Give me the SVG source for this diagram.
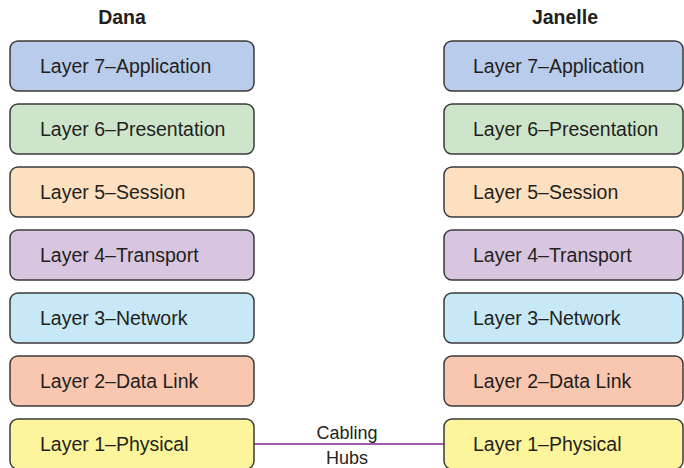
<svg xmlns="http://www.w3.org/2000/svg" width="684" height="468" viewBox="0 0 684 468">
<style>
.box{stroke:#3a3a3a;stroke-width:1.5}
.lbl{font-family:"Liberation Sans",Arial,sans-serif;font-size:19.5px;fill:#231f20}
.hdr{font-family:"Liberation Sans",Arial,sans-serif;font-size:19.5px;font-weight:bold;fill:#231f20;text-anchor:middle}
.con{font-family:"Liberation Sans",Arial,sans-serif;font-size:18px;fill:#231f20;text-anchor:middle}
.l7{fill:#b9cceb}.l6{fill:#cde6cb}.l5{fill:#fde0bf}.l4{fill:#d8c6e1}.l3{fill:#c7e8f6}.l2{fill:#f9c6b0}.l1{fill:#fdf59b}
</style>
<rect width="684" height="468" fill="#ffffff"/>
<text class="hdr" x="122" y="24">Dana</text>
<text class="hdr" x="565" y="24">Janelle</text>
<g id="connectors">
<line x1="254" y1="444" x2="444" y2="444" stroke="#a359b0" stroke-width="2"/>
<text class="con" x="347" y="439">Cabling</text>
<text class="con" x="347" y="464">Hubs</text>
</g>
<g id="dana-l7"><rect class="box l7" x="10" y="41" width="244" height="50" rx="8"/><text class="lbl" x="40" y="73">Layer 7–Application</text></g>
<g id="dana-l6"><rect class="box l6" x="10" y="104" width="244" height="50" rx="8"/><text class="lbl" x="40" y="136">Layer 6–Presentation</text></g>
<g id="dana-l5"><rect class="box l5" x="10" y="167" width="244" height="50" rx="8"/><text class="lbl" x="40" y="199">Layer 5–Session</text></g>
<g id="dana-l4"><rect class="box l4" x="10" y="230" width="244" height="50" rx="8"/><text class="lbl" x="40" y="262">Layer 4–Transport</text></g>
<g id="dana-l3"><rect class="box l3" x="10" y="293" width="244" height="50" rx="8"/><text class="lbl" x="40" y="325">Layer 3–Network</text></g>
<g id="dana-l2"><rect class="box l2" x="10" y="356" width="244" height="50" rx="8"/><text class="lbl" x="40" y="388">Layer 2–Data Link</text></g>
<g id="dana-l1"><rect class="box l1" x="10" y="419" width="244" height="50" rx="8"/><text class="lbl" x="40" y="451">Layer 1–Physical</text></g>
<g id="janelle-l7"><rect class="box l7" x="444" y="41" width="239" height="50" rx="8"/><text class="lbl" x="473" y="73">Layer 7–Application</text></g>
<g id="janelle-l6"><rect class="box l6" x="444" y="104" width="239" height="50" rx="8"/><text class="lbl" x="473" y="136">Layer 6–Presentation</text></g>
<g id="janelle-l5"><rect class="box l5" x="444" y="167" width="239" height="50" rx="8"/><text class="lbl" x="473" y="199">Layer 5–Session</text></g>
<g id="janelle-l4"><rect class="box l4" x="444" y="230" width="239" height="50" rx="8"/><text class="lbl" x="473" y="262">Layer 4–Transport</text></g>
<g id="janelle-l3"><rect class="box l3" x="444" y="293" width="239" height="50" rx="8"/><text class="lbl" x="473" y="325">Layer 3–Network</text></g>
<g id="janelle-l2"><rect class="box l2" x="444" y="356" width="239" height="50" rx="8"/><text class="lbl" x="473" y="388">Layer 2–Data Link</text></g>
<g id="janelle-l1"><rect class="box l1" x="444" y="419" width="239" height="50" rx="8"/><text class="lbl" x="473" y="451">Layer 1–Physical</text></g>
</svg>
